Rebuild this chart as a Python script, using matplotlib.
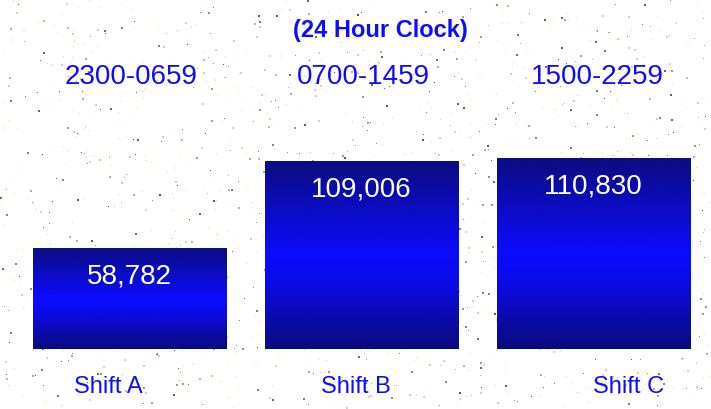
import numpy as np
import matplotlib
matplotlib.use("Agg")
import matplotlib.pyplot as plt
from matplotlib.colors import LinearSegmentedColormap

shifts = ["Shift A", "Shift B", "Shift C"]
hours = ["2300-0659", "0700-1459", "1500-2259"]
counts = [58782, 109006, 110830]
title = "(24 Hour Clock)"

plt.rcParams["font.family"] = ["Liberation Sans", "DejaVu Sans"]
text_blue = "#0c0cff"

W, H = 711, 410
fig = plt.figure(figsize=(W / 100, H / 100), dpi=100)

# speckled stone-like backdrop
bg_ax = fig.add_axes([0, 0, 1, 1])
rng = np.random.default_rng(7)
bg = np.ones((H, W, 3))
n = 1700
ys = rng.integers(0, H - 1, n)
xs = rng.integers(0, W - 1, n)
kind = rng.random(n)
size = rng.random(n)
for y, x, k, s in zip(ys, xs, kind, size):
    if k < 0.4:
        g = rng.uniform(0.35, 0.75)
        c = (g, g, g)
    elif k < 0.75:
        c = (1.0, 0.96, 0.78)
    else:
        c = (0.92, 0.78, 0.76)
    if s < 0.35:
        bg[y:y + 2, x:x + 2] = c
    else:
        bg[y, x] = c
bg_ax.imshow(bg, aspect="auto", interpolation="bilinear")
bg_ax.set_axis_off()

# bar area: baseline at y=350 px, x from 13.5 to 709.5 px
left = 13.5 / W
bottom = (H - 350) / H
ymax = 120000
px_per_unit = 191 / 110830
height = ymax * px_per_unit / H
ax = fig.add_axes([left, bottom, 696 / W, height])
ax.set_xlim(-0.5, 2.5)
ax.set_ylim(0, ymax)
ax.set_axis_off()
ax.patch.set_alpha(0)

x = np.arange(len(counts))
bars = ax.bar(x, counts, width=194 / 232, color="none", edgecolor="none")

cmap = LinearSegmentedColormap.from_list(
    "shade",
    [(0.0, "#0c0c80"), (0.2, "#0c0cb4"), (0.5, "#0c0cff"),
     (0.62, "#0b0bf0"), (0.85, "#0b0ba8"), (1.0, "#0a0a80")],
)
grad = np.linspace(0, 1, 256).reshape(-1, 1)
for b, v in zip(bars, counts):
    x0 = b.get_x()
    im = ax.imshow(grad, cmap=cmap, aspect="auto",
                   extent=(x0, x0 + b.get_width(), 0, v), origin="upper",
                   interpolation="bicubic", zorder=2)
    im.set_clip_path(b)
    ax.text(b.get_x() + b.get_width() / 2, v - 27.5 / px_per_unit,
            f"{v:,}", ha="center", va="center", color="white",
            fontsize=20, zorder=3)

ax.set_xlim(-0.5, 2.5)
ax.set_ylim(0, ymax)

# header text
fig.text(380 / W, 1 - 30 / H, title, ha="center", va="center",
         fontsize=17, fontweight="bold", color=text_blue)
hour_x = [131, 363, 597]
for hx, lab in zip(hour_x, hours):
    fig.text(hx / W, 1 - 77 / H, lab, ha="center", va="center",
             fontsize=20, color=text_blue)

shift_x = [108, 356, 629]
for sx, lab in zip(shift_x, shifts):
    fig.text(sx / W, 1 - 387 / H, lab, ha="center", va="center",
             fontsize=17, color=text_blue)

fig.savefig("out.png", dpi=100)
